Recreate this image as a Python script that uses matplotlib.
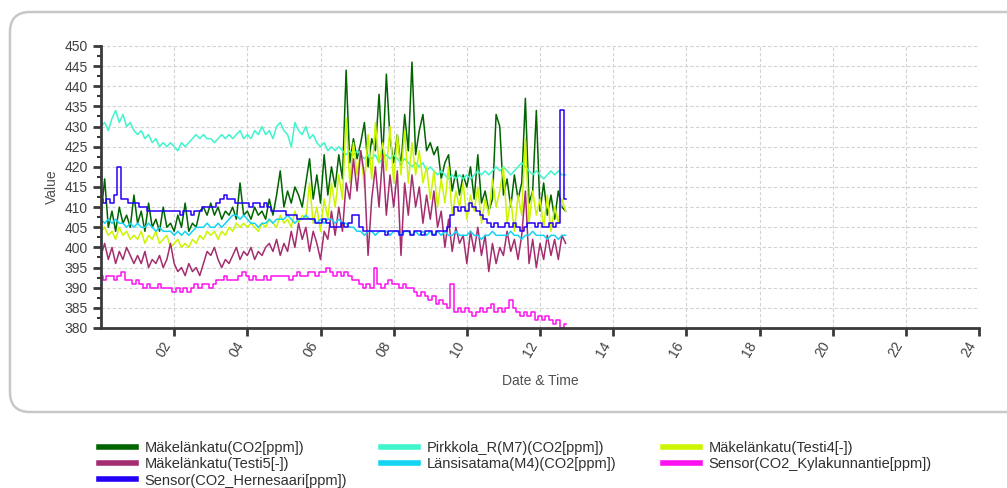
import numpy as np
import matplotlib
matplotlib.use("Agg")
import matplotlib.pyplot as plt
from matplotlib.patches import FancyBboxPatch
from matplotlib.ticker import MultipleLocator

plt.rcParams['font.family'] = ['Liberation Sans', 'DejaVu Sans']

# readings every 6 minutes from midnight, hours on the x axis
hours = np.arange(128) * 0.1

makelankatu_co2 = [
    408, 417, 405, 409, 404, 410, 406, 408, 405, 413,
    406, 409, 404, 411, 405, 407, 404, 410, 405, 406,
    404, 408, 405, 411, 404, 406, 405, 409, 410, 408,
    411, 408, 410, 407, 409, 408, 410, 407, 416, 408,
    409, 407, 410, 408, 409, 407, 412, 408, 413, 419,
    410, 414, 411, 415, 413, 410, 416, 422, 412, 418,
    411, 423, 413, 420, 415, 423, 417, 444, 421, 427,
    422, 426, 431, 420, 427, 424, 438, 422, 443, 427,
    421, 428, 420, 433, 424, 446, 423, 429, 433, 424,
    426, 423, 425, 417, 421, 423, 414, 419, 413, 418,
    415, 420, 412, 423, 411, 414, 409, 412, 433, 430,
    413, 417, 410, 418, 412, 416, 437, 411, 414, 434,
    409, 416, 408, 413, 407, 414, 410, 409,
]
pirkkola_co2 = [
    430, 431, 429, 432, 434, 431, 433, 430, 431, 429,
    428, 429, 427, 428, 426, 427, 425, 426, 425, 426,
    425, 424, 426, 425, 426, 427, 428, 427, 428, 427,
    427, 426, 427, 428, 427, 428, 427, 428, 429, 427,
    428, 427, 429, 428, 430, 428, 429, 427, 430, 431,
    429, 428, 425, 431, 429, 428, 430, 427, 428, 426,
    425, 426, 424, 425, 424, 425, 424, 423, 424, 423,
    424, 423, 422, 423, 422, 423, 421, 422, 423, 422,
    423, 422, 421, 422, 421, 420, 421, 420, 421, 419,
    420, 419, 418, 419, 418, 417, 418, 417, 418, 417,
    418, 417, 418, 419, 418, 419, 418, 419, 420, 419,
    420, 419, 418, 419, 420, 421, 420, 419, 418, 419,
    418, 417, 418, 419, 418, 419, 418, 418,
]
makelankatu_testi4 = [
    404, 405, 403, 404, 402, 405, 403, 404, 402, 403,
    402, 404, 401, 403, 402, 404, 401, 402, 403, 400,
    401, 402, 400, 401, 400, 402, 401, 403, 402, 404,
    403, 404, 402, 404, 403, 405, 404, 406, 405, 406,
    405, 406, 405, 404, 406, 405, 407, 406, 405, 408,
    406, 407, 405, 409, 406, 408, 407, 416, 406, 410,
    404, 412, 407, 416, 410, 418, 412, 432, 416, 426,
    418, 424, 415, 428, 417, 431, 421, 426, 419, 430,
    416, 428, 418, 429, 416, 426, 418, 424, 416, 420,
    412, 419, 410, 417, 411, 420, 408, 414, 410, 416,
    407, 413, 409, 415, 406, 412, 408, 417, 410, 414,
    420, 406, 412, 404, 413, 408, 427, 406, 414, 408,
    412, 405, 413, 404, 410, 406, 412, 409,
]
makelankatu_testi5 = [
    398, 401, 397, 400, 396, 399, 397, 400, 398, 396,
    398, 396, 399, 395, 397, 396, 398, 395, 397, 401,
    396, 394, 395, 393, 396, 394, 395, 393, 396, 399,
    398, 400, 397, 395, 397, 396, 398, 400, 397, 399,
    398, 400, 397, 399, 398, 400, 401, 399, 402, 398,
    401, 399, 404, 400, 406, 402, 405, 399, 404, 401,
    397, 404, 402, 409, 403, 410, 404, 416, 412, 422,
    414, 424, 418, 398, 412, 420, 410, 423, 408, 418,
    410, 419, 398, 416, 408, 418, 410, 415, 406, 413,
    407, 414, 405, 409, 400, 407, 399, 405, 401, 403,
    396, 404, 399, 405, 398, 403, 394, 401, 396, 400,
    398, 404, 399, 402, 397, 403, 414, 396, 402, 395,
    401, 397, 403, 398, 402, 397, 403, 401,
]
lansisatama_co2 = [
    407, 406, 407, 406, 407, 406, 406, 405, 406, 405,
    406, 405, 405, 406, 405, 404, 405, 404, 404, 404,
    403, 404, 403, 404, 403, 404, 405, 405, 405, 406,
    405, 405, 406, 405, 406, 407, 408, 408, 407, 408,
    407, 406, 406, 405, 406, 406, 407, 406, 407, 407,
    407, 408, 407, 406, 407, 407, 408, 407, 407, 406,
    407, 406, 407, 407, 406, 407, 406, 406, 405, 405,
    404, 404, 403, 404, 404, 403, 404, 404, 404, 403,
    404, 404, 403, 404, 404, 403, 404, 403, 404, 403,
    404, 403, 404, 403, 404, 403, 403, 404, 403, 403,
    403, 404, 403, 403, 402, 403, 403, 404, 403, 403,
    403, 403, 404, 403, 403, 402, 403, 403, 404, 403,
    403, 403, 402, 403, 403, 402, 403, 403,
]
kylakunnantie_co2 = [
    393, 392, 393, 393, 392, 393, 394, 392, 392, 391,
    392, 391, 390, 391, 390, 390, 391, 390, 390, 390,
    389, 390, 389, 390, 389, 390, 391, 390, 391, 391,
    390, 391, 392, 392, 393, 392, 392, 392, 393, 394,
    393, 392, 393, 392, 392, 393, 392, 393, 393, 393,
    393, 393, 392, 393, 394, 393, 393, 394, 394, 393,
    394, 394, 395, 394, 393, 394, 393, 394, 393, 392,
    392, 391, 390, 391, 390, 395, 391, 390, 391, 392,
    391, 391, 390, 391, 390, 390, 389, 388, 389, 388,
    387, 388, 386, 387, 386, 385, 391, 384, 385, 384,
    385, 384, 383, 384, 385, 384, 385, 386, 384, 385,
    384, 385, 387, 385, 384, 383, 384, 383, 384, 382,
    383, 382, 383, 382, 381, 382, 380, 381,
]
hernesaari_co2 = [
    412, 411, 412, 411, 413, 420, 412, 412, 411, 411,
    411, 410, 410, 409, 409, 409, 409, 409, 409, 409,
    409, 409, 408, 409, 409, 408, 409, 409, 410, 410,
    410, 410, 411, 412, 413, 412, 412, 411, 411, 411,
    411, 410, 411, 411, 410, 411, 410, 409, 409, 409,
    409, 408, 408, 408, 407, 407, 407, 407, 407, 406,
    406, 407, 406, 405, 405, 405, 406, 405, 406, 408,
    408, 405, 404, 404, 404, 404, 404, 404, 403, 404,
    404, 404, 403, 404, 404, 403, 404, 404, 403, 404,
    404, 403, 404, 404, 404, 405, 408, 410, 409, 410,
    409, 411, 410, 409, 408, 407, 406, 405, 406, 405,
    405, 406, 405, 406, 405, 404, 405, 406, 406, 405,
    406, 405, 405, 406, 405, 406, 434, 412,
]

# name, values, colour, draw style (slow sensors step, fast ones zigzag)
series = [
    ('Mäkelänkatu(CO2[ppm])', makelankatu_co2, '#006400', 'default'),
    ('Pirkkola_R(M7)(CO2[ppm])', pirkkola_co2, '#3ff5cc', 'default'),
    ('Mäkelänkatu(Testi4[-])', makelankatu_testi4, '#ccf500', 'default'),
    ('Mäkelänkatu(Testi5[-])', makelankatu_testi5, '#a32d6f', 'default'),
    ('Länsisatama(M4)(CO2[ppm])', lansisatama_co2, '#14d4f4', 'default'),
    ('Sensor(CO2_Kylakunnantie[ppm])', kylakunnantie_co2, '#ff10f0', 'steps-mid'),
    ('Sensor(CO2_Hernesaari[ppm])', hernesaari_co2, '#2400f8', 'steps-mid'),
]

fig = plt.figure(figsize=(10.07, 4.88), dpi=100)

# rounded frame around the chart area
frame = FancyBboxPatch((0.0099, 0.1557), 1.02, 0.8197,
                       boxstyle="round,pad=0,rounding_size=0.02",
                       transform=fig.transFigure, facecolor='white',
                       edgecolor='#c8c8c8', linewidth=1.8, zorder=-1,
                       mutation_aspect=2.06)
fig.patches.append(frame)

ax = fig.add_axes([0.1003, 0.3279, 0.8719, 0.5779])
ax.set_zorder(2)
ax.set_facecolor('none')

handles = []
for name, values, color, style in series:
    line, = ax.plot(hours, values, color=color, linewidth=1.1,
                    drawstyle=style, label=name)
    handles.append(line)

ax.set_xlim(0, 24)
ax.set_ylim(380, 450)
ax.set_xticks(range(2, 25, 2))
ax.set_xticklabels(['%02d' % h for h in range(2, 25, 2)], rotation=60,
                   ha='right', va='top')
ax.yaxis.set_major_locator(MultipleLocator(5))
ax.yaxis.set_minor_locator(MultipleLocator(2.5))

ax.grid(True, which='major', color='#d2d2d2', linestyle=(0, (3, 2)), linewidth=0.8)
for side in ('top', 'right'):
    ax.spines[side].set_visible(False)
for side in ('left', 'bottom'):
    ax.spines[side].set_color('#3a3a3a')
    ax.spines[side].set_linewidth(2)
ax.tick_params(axis='both', which='major', colors='#3a3a3a', width=2,
               length=6, labelsize=10, labelcolor='#404040')
ax.tick_params(axis='y', which='minor', colors='#3a3a3a', width=1.5, length=3)
ax.tick_params(axis='x', pad=2)

ax.set_xlabel('Date & Time', fontsize=10, color='#505050', labelpad=10)
ax.set_ylabel('Value', fontsize=10, color='#505050', labelpad=4)

# legend laid out row by row in three fixed columns
columns = [(0.098, [0, 3, 6]), (0.378, [1, 4]), (0.658, [2, 5])]
for x0, idx in columns:
    leg = fig.legend([handles[i] for i in idx], [series[i][0] for i in idx],
                     loc='upper left', bbox_to_anchor=(x0, 0.096),
                     frameon=False, fontsize=10.5, handlelength=2.55,
                     handletextpad=0.6, labelspacing=0.15,
                     borderaxespad=0, borderpad=0)
    for lh in leg.get_lines():
        lh.set_linewidth(4)
    for txt in leg.get_texts():
        txt.set_color('#303030')

fig.savefig('out.png', dpi=100)
